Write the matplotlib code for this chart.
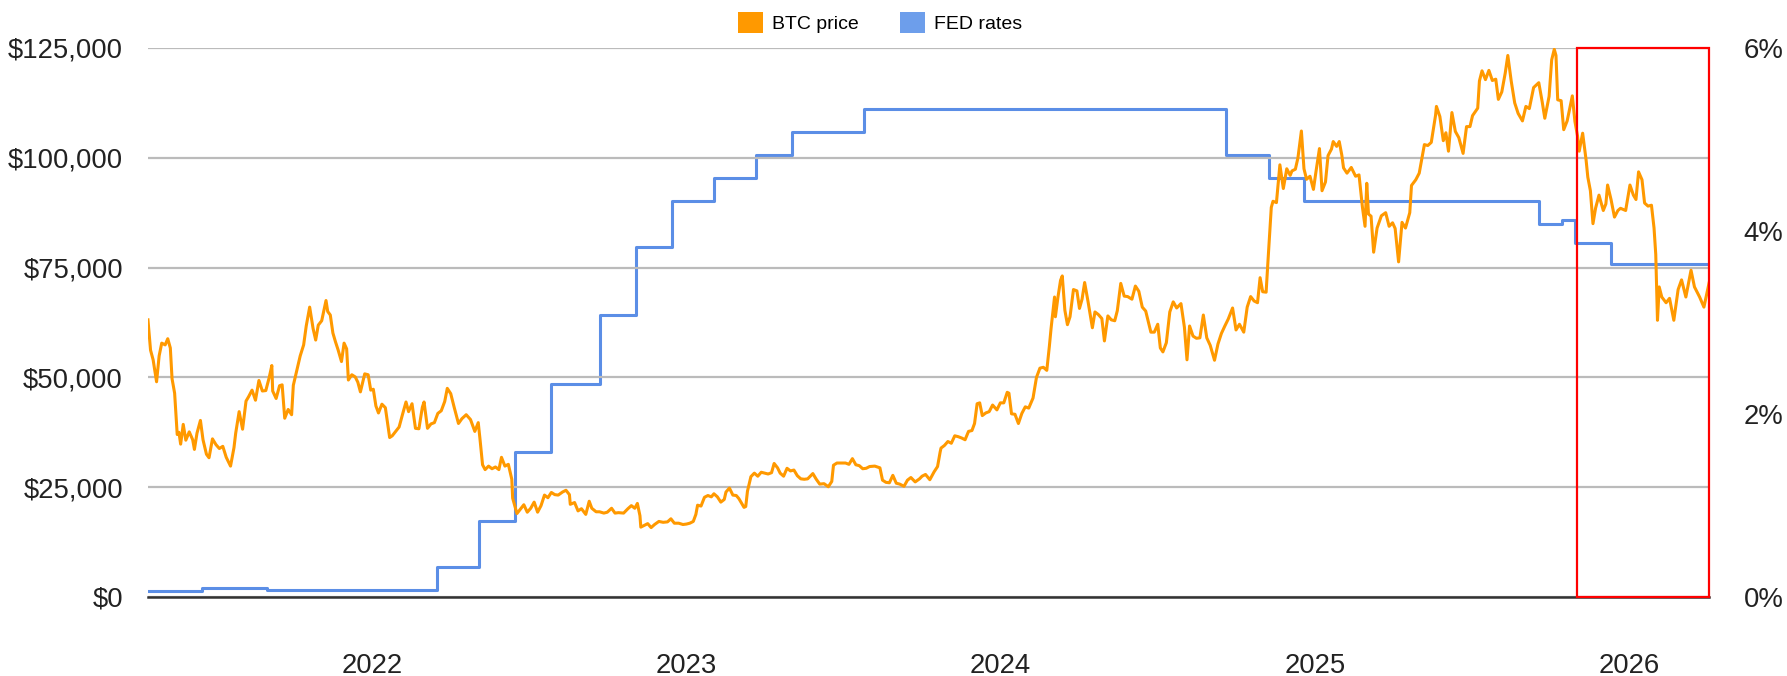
import pandas as pd
import matplotlib.pyplot as plt
import matplotlib.dates as mdates
from matplotlib.patches import Patch, Rectangle
from matplotlib.ticker import FuncFormatter

plt.rcParams['font.family'] = ['Liberation Sans', 'DejaVu Sans']

# BTC daily-ish closes (USD)
btc_dates = [
    '2021-04-15', '2021-04-18', '2021-04-21', '2021-04-25', '2021-04-28', '2021-05-01', '2021-05-05',
    '2021-05-08', '2021-05-11', '2021-05-13', '2021-05-16', '2021-05-19', '2021-05-21', '2021-05-23',
    '2021-05-26', '2021-05-29', '2021-06-02', '2021-06-06', '2021-06-08', '2021-06-11', '2021-06-15',
    '2021-06-18', '2021-06-22', '2021-06-25', '2021-06-29', '2021-07-03', '2021-07-07', '2021-07-11',
    '2021-07-15', '2021-07-20', '2021-07-24', '2021-07-26', '2021-07-30', '2021-08-03', '2021-08-07',
    '2021-08-10', '2021-08-14', '2021-08-18', '2021-08-22', '2021-08-26', '2021-08-30', '2021-09-03',
    '2021-09-06', '2021-09-07', '2021-09-11', '2021-09-15', '2021-09-18', '2021-09-21', '2021-09-25',
    '2021-09-29', '2021-10-01', '2021-10-05', '2021-10-09', '2021-10-13', '2021-10-16', '2021-10-20',
    '2021-10-24', '2021-10-27', '2021-10-30', '2021-11-03', '2021-11-08', '2021-11-10', '2021-11-13',
    '2021-11-16', '2021-11-19', '2021-11-22', '2021-11-26', '2021-11-29', '2021-12-02', '2021-12-04',
    '2021-12-08', '2021-12-12', '2021-12-15', '2021-12-18', '2021-12-23', '2021-12-27', '2021-12-30',
    '2022-01-02', '2022-01-05', '2022-01-08', '2022-01-12', '2022-01-16', '2022-01-21', '2022-01-24',
    '2022-01-28', '2022-02-01', '2022-02-05', '2022-02-09', '2022-02-12', '2022-02-16', '2022-02-20',
    '2022-02-24', '2022-02-28', '2022-03-02', '2022-03-06', '2022-03-10', '2022-03-14', '2022-03-18',
    '2022-03-22', '2022-03-26', '2022-03-29', '2022-04-02', '2022-04-06', '2022-04-11', '2022-04-15',
    '2022-04-20', '2022-04-25', '2022-04-30', '2022-05-04', '2022-05-06', '2022-05-09', '2022-05-12',
    '2022-05-16', '2022-05-20', '2022-05-24', '2022-05-28', '2022-05-31', '2022-06-04', '2022-06-08',
    '2022-06-12', '2022-06-13', '2022-06-18', '2022-06-22', '2022-06-26', '2022-06-30', '2022-07-04',
    '2022-07-08', '2022-07-12', '2022-07-16', '2022-07-20', '2022-07-24', '2022-07-28', '2022-08-01',
    '2022-08-05', '2022-08-10', '2022-08-14', '2022-08-18', '2022-08-19', '2022-08-24', '2022-08-28',
    '2022-09-01', '2022-09-06', '2022-09-10', '2022-09-13', '2022-09-18', '2022-09-22', '2022-09-27',
    '2022-10-01', '2022-10-06', '2022-10-10', '2022-10-14', '2022-10-20', '2022-10-25', '2022-10-29',
    '2022-11-02', '2022-11-05', '2022-11-08', '2022-11-09', '2022-11-13', '2022-11-17', '2022-11-21',
    '2022-11-25', '2022-11-30', '2022-12-05', '2022-12-10', '2022-12-14', '2022-12-18', '2022-12-23',
    '2022-12-28', '2023-01-01', '2023-01-05', '2023-01-09', '2023-01-12', '2023-01-14', '2023-01-18',
    '2023-01-22', '2023-01-26', '2023-01-30', '2023-02-02', '2023-02-06', '2023-02-10', '2023-02-14',
    '2023-02-16', '2023-02-20', '2023-02-24', '2023-02-28', '2023-03-03', '2023-03-09', '2023-03-11',
    '2023-03-13', '2023-03-17', '2023-03-21', '2023-03-25', '2023-03-29', '2023-04-02', '2023-04-06',
    '2023-04-10', '2023-04-13', '2023-04-17', '2023-04-20', '2023-04-24', '2023-04-28', '2023-05-02',
    '2023-05-06', '2023-05-10', '2023-05-14', '2023-05-18', '2023-05-22', '2023-05-28', '2023-06-01',
    '2023-06-05', '2023-06-10', '2023-06-15', '2023-06-19', '2023-06-21', '2023-06-25', '2023-06-30',
    '2023-07-05', '2023-07-09', '2023-07-13', '2023-07-17', '2023-07-21', '2023-07-25', '2023-07-29',
    '2023-08-02', '2023-08-08', '2023-08-14', '2023-08-17', '2023-08-21', '2023-08-25', '2023-08-29',
    '2023-09-02', '2023-09-06', '2023-09-11', '2023-09-15', '2023-09-19', '2023-09-24', '2023-09-29',
    '2023-10-02', '2023-10-06', '2023-10-11', '2023-10-16', '2023-10-20', '2023-10-23', '2023-10-24',
    '2023-10-28', '2023-11-01', '2023-11-05', '2023-11-09', '2023-11-13', '2023-11-17', '2023-11-21',
    '2023-11-25', '2023-11-29', '2023-12-02', '2023-12-05', '2023-12-08', '2023-12-11', '2023-12-15',
    '2023-12-19', '2023-12-23', '2023-12-28', '2024-01-01', '2024-01-05', '2024-01-09', '2024-01-11',
    '2024-01-14', '2024-01-18', '2024-01-22', '2024-01-26', '2024-01-30', '2024-02-03', '2024-02-08',
    '2024-02-12', '2024-02-16', '2024-02-20', '2024-02-24', '2024-02-27', '2024-02-29', '2024-03-04',
    '2024-03-05', '2024-03-08', '2024-03-11', '2024-03-13', '2024-03-16', '2024-03-19', '2024-03-22',
    '2024-03-26', '2024-03-30', '2024-04-02', '2024-04-05', '2024-04-08', '2024-04-12', '2024-04-17',
    '2024-04-20', '2024-04-24', '2024-04-28', '2024-05-01', '2024-05-05', '2024-05-09', '2024-05-13',
    '2024-05-16', '2024-05-20', '2024-05-24', '2024-05-28', '2024-06-02', '2024-06-06', '2024-06-10',
    '2024-06-14', '2024-06-18', '2024-06-24', '2024-06-28', '2024-07-02', '2024-07-05', '2024-07-08',
    '2024-07-12', '2024-07-16', '2024-07-20', '2024-07-24', '2024-07-29', '2024-08-02', '2024-08-05',
    '2024-08-08', '2024-08-12', '2024-08-16', '2024-08-20', '2024-08-24', '2024-08-28', '2024-09-01',
    '2024-09-06', '2024-09-10', '2024-09-14', '2024-09-18', '2024-09-22', '2024-09-27', '2024-10-01',
    '2024-10-05', '2024-10-10', '2024-10-14', '2024-10-18', '2024-10-22', '2024-10-26', '2024-10-29',
    '2024-11-01', '2024-11-05', '2024-11-07', '2024-11-11', '2024-11-13', '2024-11-17', '2024-11-21',
    '2024-11-25', '2024-11-29', '2024-12-03', '2024-12-05', '2024-12-09', '2024-12-12', '2024-12-16',
    '2024-12-19', '2024-12-22', '2024-12-26', '2024-12-30', '2025-01-02', '2025-01-06', '2025-01-09',
    '2025-01-13', '2025-01-16', '2025-01-20', '2025-01-22', '2025-01-26', '2025-01-29', '2025-02-01',
    '2025-02-03', '2025-02-07', '2025-02-12', '2025-02-17', '2025-02-21', '2025-02-25', '2025-02-28',
    '2025-03-02', '2025-03-04', '2025-03-07', '2025-03-10', '2025-03-14', '2025-03-19', '2025-03-24',
    '2025-03-28', '2025-04-01', '2025-04-04', '2025-04-08', '2025-04-12', '2025-04-16', '2025-04-21',
    '2025-04-23', '2025-04-28', '2025-05-02', '2025-05-08', '2025-05-12', '2025-05-16', '2025-05-21',
    '2025-05-22', '2025-05-26', '2025-05-30', '2025-06-02', '2025-06-05', '2025-06-09', '2025-06-13',
    '2025-06-17', '2025-06-22', '2025-06-26', '2025-06-30', '2025-07-03', '2025-07-09', '2025-07-11',
    '2025-07-14', '2025-07-18', '2025-07-22', '2025-07-26', '2025-07-30', '2025-08-02', '2025-08-06',
    '2025-08-10', '2025-08-13', '2025-08-17', '2025-08-21', '2025-08-25', '2025-08-30', '2025-09-03',
    '2025-09-07', '2025-09-12', '2025-09-18', '2025-09-22', '2025-09-25', '2025-09-30', '2025-10-03',
    '2025-10-06', '2025-10-08', '2025-10-10', '2025-10-14', '2025-10-17', '2025-10-21', '2025-10-27',
    '2025-10-30', '2025-11-02', '2025-11-04', '2025-11-08', '2025-11-12', '2025-11-14', '2025-11-17',
    '2025-11-20', '2025-11-23', '2025-11-27', '2025-12-02', '2025-12-05', '2025-12-07', '2025-12-11',
    '2025-12-15', '2025-12-19', '2025-12-22', '2025-12-28', '2026-01-02', '2026-01-06', '2026-01-09',
    '2026-01-12', '2026-01-16', '2026-01-19', '2026-01-23', '2026-01-27', '2026-01-30', '2026-02-01',
    '2026-02-03', '2026-02-05', '2026-02-08', '2026-02-13', '2026-02-17', '2026-02-22', '2026-02-27',
    '2026-03-03', '2026-03-08', '2026-03-14', '2026-03-18', '2026-03-24', '2026-03-29', '2026-04-04',
]
btc_k = [
    63.1, 56.2, 54.0, 49.0, 54.9, 57.8, 57.4,
    58.8, 56.7, 49.7, 46.4, 37.0, 37.5, 34.8,
    39.3, 35.7, 37.6, 35.8, 33.6, 37.3, 40.2,
    35.8, 32.5, 31.7, 36.0, 34.7, 33.8, 34.3,
    31.8, 29.8, 34.0, 37.3, 42.2, 38.2, 44.6,
    45.6, 47.1, 44.8, 49.3, 46.9, 47.0, 50.0,
    52.7, 46.9, 45.2, 48.1, 48.3, 40.7, 42.7,
    41.5, 48.2, 51.5, 54.9, 57.4, 61.7, 66.0,
    61.1, 58.5, 61.9, 62.9, 67.5, 65.0, 64.2,
    60.1, 58.1, 56.3, 53.6, 57.8, 56.5, 49.4,
    50.6, 50.1, 48.9, 46.7, 50.8, 50.6, 47.1,
    47.3, 43.5, 41.9, 43.9, 43.1, 36.3, 36.7,
    37.7, 38.7, 41.6, 44.4, 42.2, 44.0, 38.4,
    38.3, 43.2, 44.4, 38.4, 39.4, 39.7, 41.8,
    42.4, 44.5, 47.5, 46.3, 43.2, 39.5, 40.6,
    41.5, 40.4, 37.7, 39.7, 36.0, 30.1, 29.0,
    29.8, 29.2, 29.6, 29.0, 31.8, 29.8, 30.2,
    26.8, 22.5, 19.0, 20.0, 21.0, 19.3, 20.2,
    21.6, 19.3, 20.8, 23.2, 22.6, 23.8, 23.3,
    23.2, 23.9, 24.3, 23.3, 21.1, 21.5, 19.6,
    20.1, 18.8, 21.8, 20.2, 19.4, 19.4, 19.1,
    19.3, 20.2, 19.1, 19.2, 19.1, 20.1, 20.8,
    20.2, 21.3, 18.5, 15.9, 16.3, 16.7, 15.8,
    16.5, 17.2, 17.0, 17.1, 17.8, 16.8, 16.8,
    16.5, 16.6, 16.8, 17.2, 18.8, 20.9, 20.7,
    22.7, 23.1, 22.8, 23.5, 22.8, 21.6, 22.2,
    23.9, 24.8, 23.2, 23.1, 22.4, 20.4, 20.6,
    24.1, 27.4, 28.2, 27.5, 28.4, 28.2, 28.0,
    28.3, 30.4, 29.4, 28.2, 27.5, 29.3, 28.7,
    28.9, 27.6, 26.9, 26.8, 26.9, 28.1, 26.8,
    25.7, 25.8, 25.1, 26.3, 30.0, 30.5, 30.5,
    30.5, 30.2, 31.5, 30.1, 29.9, 29.2, 29.3,
    29.7, 29.8, 29.4, 26.6, 26.1, 26.0, 27.7,
    25.9, 25.7, 25.2, 26.6, 27.2, 26.2, 26.9,
    27.5, 27.9, 26.7, 28.5, 29.7, 33.0, 33.9,
    34.5, 35.4, 35.0, 36.7, 36.5, 36.2, 35.8,
    37.7, 37.9, 39.5, 44.0, 44.2, 41.3, 41.9,
    42.2, 43.7, 42.6, 44.2, 44.2, 46.6, 46.4,
    41.7, 41.6, 39.5, 41.8, 43.3, 43.0, 45.3,
    50.0, 52.1, 52.3, 51.6, 57.1, 61.2, 68.3,
    63.8, 68.3, 72.1, 73.1, 65.3, 62.0, 63.8,
    70.0, 69.7, 65.7, 67.8, 71.6, 67.2, 61.3,
    64.9, 64.3, 63.4, 58.3, 64.0, 63.1, 62.9,
    65.2, 71.4, 68.5, 68.4, 67.8, 70.8, 69.6,
    66.0, 65.1, 60.3, 60.3, 62.1, 56.7, 55.8,
    57.9, 64.9, 67.2, 65.8, 66.8, 61.4, 54.0,
    61.7, 59.4, 58.9, 59.0, 64.2, 59.0, 57.3,
    53.9, 57.6, 60.0, 61.7, 63.3, 65.8, 60.8,
    62.1, 60.3, 66.0, 68.4, 67.4, 67.0, 72.7,
    69.5, 69.4, 76.0, 88.7, 90.1, 89.8, 98.4,
    93.0, 97.5, 96.0, 97.0, 97.4, 100.0, 106.1,
    97.5, 95.1, 95.8, 92.8, 96.9, 102.1, 92.5,
    94.5, 100.5, 102.0, 103.7, 102.6, 103.7, 100.6,
    97.7, 96.5, 97.8, 95.8, 96.1, 88.7, 84.4,
    94.2, 87.2, 86.7, 78.5, 84.0, 86.8, 87.5,
    84.4, 85.2, 83.9, 76.3, 85.3, 84.0, 87.5,
    93.7, 95.0, 96.5, 103.0, 102.8, 103.5, 109.7,
    111.7, 109.4, 103.9, 105.7, 101.5, 110.3, 106.0,
    104.6, 101.0, 107.1, 107.1, 109.6, 111.3, 117.5,
    119.8, 117.8, 119.9, 117.6, 117.9, 113.3, 115.0,
    119.3, 123.3, 117.4, 112.5, 110.1, 108.4, 111.7,
    111.2, 116.0, 117.1, 112.7, 109.0, 114.0, 122.3,
    124.7, 123.3, 113.2, 113.0, 106.4, 108.4, 114.1,
    108.3, 105.0, 101.5, 105.6, 99.5, 95.6, 92.5,
    85.0, 88.5, 91.5, 88.0, 89.5, 93.8, 90.5,
    86.5, 88.0, 88.5, 88.0, 93.8, 91.5, 90.5,
    96.8, 95.0, 89.7, 89.0, 89.2, 84.0, 78.0,
    63.0, 70.6, 68.3, 67.0, 68.0, 63.0, 70.0,
    72.2, 68.3, 74.4, 70.6, 68.3, 66.0, 71.5,
]
btc_price = [v * 1000 for v in btc_k]

# Effective fed funds rate (%), step changes
fed_dates = [
    '2021-04-15', '2021-05-03', '2021-06-17', '2021-08-31', '2022-03-17', '2022-05-05',
    '2022-06-16', '2022-07-28', '2022-09-22', '2022-11-03', '2022-12-15', '2023-02-02',
    '2023-03-23', '2023-05-04', '2023-07-27', '2024-09-19', '2024-11-08', '2024-12-19',
    '2025-09-18', '2025-10-15', '2025-10-30', '2025-12-11', '2026-04-04',
]
fed_rate = [
    0.07, 0.06, 0.10, 0.08, 0.33, 0.83,
    1.58, 2.33, 3.08, 3.83, 4.33, 4.58,
    4.83, 5.08, 5.33, 4.83, 4.58, 4.33,
    4.08, 4.12, 3.87, 3.64, 3.64,
]

year_ticks = ['2022-01-01', '2023-01-01', '2024-01-01', '2025-01-01', '2026-01-01']
year_labels = ['2022', '2023', '2024', '2025', '2026']
highlight_start = '2025-11-02'

btc_x = pd.to_datetime(btc_dates)
fed_x = pd.to_datetime(fed_dates)

fig = plt.figure(figsize=(17.87, 6.76), dpi=100)
ax = fig.add_axes([0.0828, 0.1169, 0.8736, 0.8121])
ax2 = ax.twinx()

ax2.plot(fed_x, fed_rate, drawstyle='steps-post', color='#5b8ee6', lw=2.2)
ax.plot(btc_x, btc_price, color='#ff9900', lw=2.2, solid_joinstyle='round')

# put BTC (and the grid) over the rates line
ax.set_zorder(ax2.get_zorder() + 1)
ax.patch.set_visible(False)

ax.set_xlim(btc_x[0], btc_x[-1])
ax.set_ylim(0, 125000)
ax2.set_ylim(0, 6)

ax.set_yticks(range(0, 125001, 25000))
ax.yaxis.set_major_formatter(FuncFormatter(lambda v, p: f'${v:,.0f}'))
ax2.set_yticks([0, 2, 4, 6])
ax2.set_yticklabels(['0%', '2%', '4%', '6%'])

ax.set_xticks(pd.to_datetime(year_ticks))
ax.set_xticklabels(year_labels)

ax.grid(axis='y', color='#bbbbbb', lw=1.6)
ax.set_axisbelow(True)
for a in (ax, ax2):
    for s in ('top', 'left', 'right'):
        a.spines[s].set_visible(False)
ax2.spines['bottom'].set_visible(False)
ax.spines['bottom'].set_color('#333333')
ax.spines['bottom'].set_linewidth(1.8)
ax.spines['bottom'].set_zorder(5)

ax.tick_params(axis='y', length=0, pad=18, labelsize=19.8, labelcolor='#222222')
ax.tick_params(axis='x', length=0, pad=40, labelsize=19.8, labelcolor='#222222')
ax2.tick_params(axis='y', length=0, pad=25, labelsize=19.8, labelcolor='#222222')

# red box round the latest months
x0 = mdates.date2num(pd.to_datetime(highlight_start))
x1 = mdates.date2num(btc_x[-1])
ax.add_patch(Rectangle((x0, 0), x1 - x0, 125000, fill=False,
                       edgecolor='#ff0000', lw=1.6, zorder=6, clip_on=False))

handles = [Patch(facecolor='#ff9900', label='BTC price'),
           Patch(facecolor='#6d9eeb', label='FED rates')]
fig.legend(handles=handles, loc='center', bbox_to_anchor=(0.4925, 0.967), ncol=2,
           frameon=False, fontsize=14, handlelength=1.3, handleheight=1.3,
           handletextpad=0.45, columnspacing=2.1)

fig.savefig('out.png', dpi=100)
